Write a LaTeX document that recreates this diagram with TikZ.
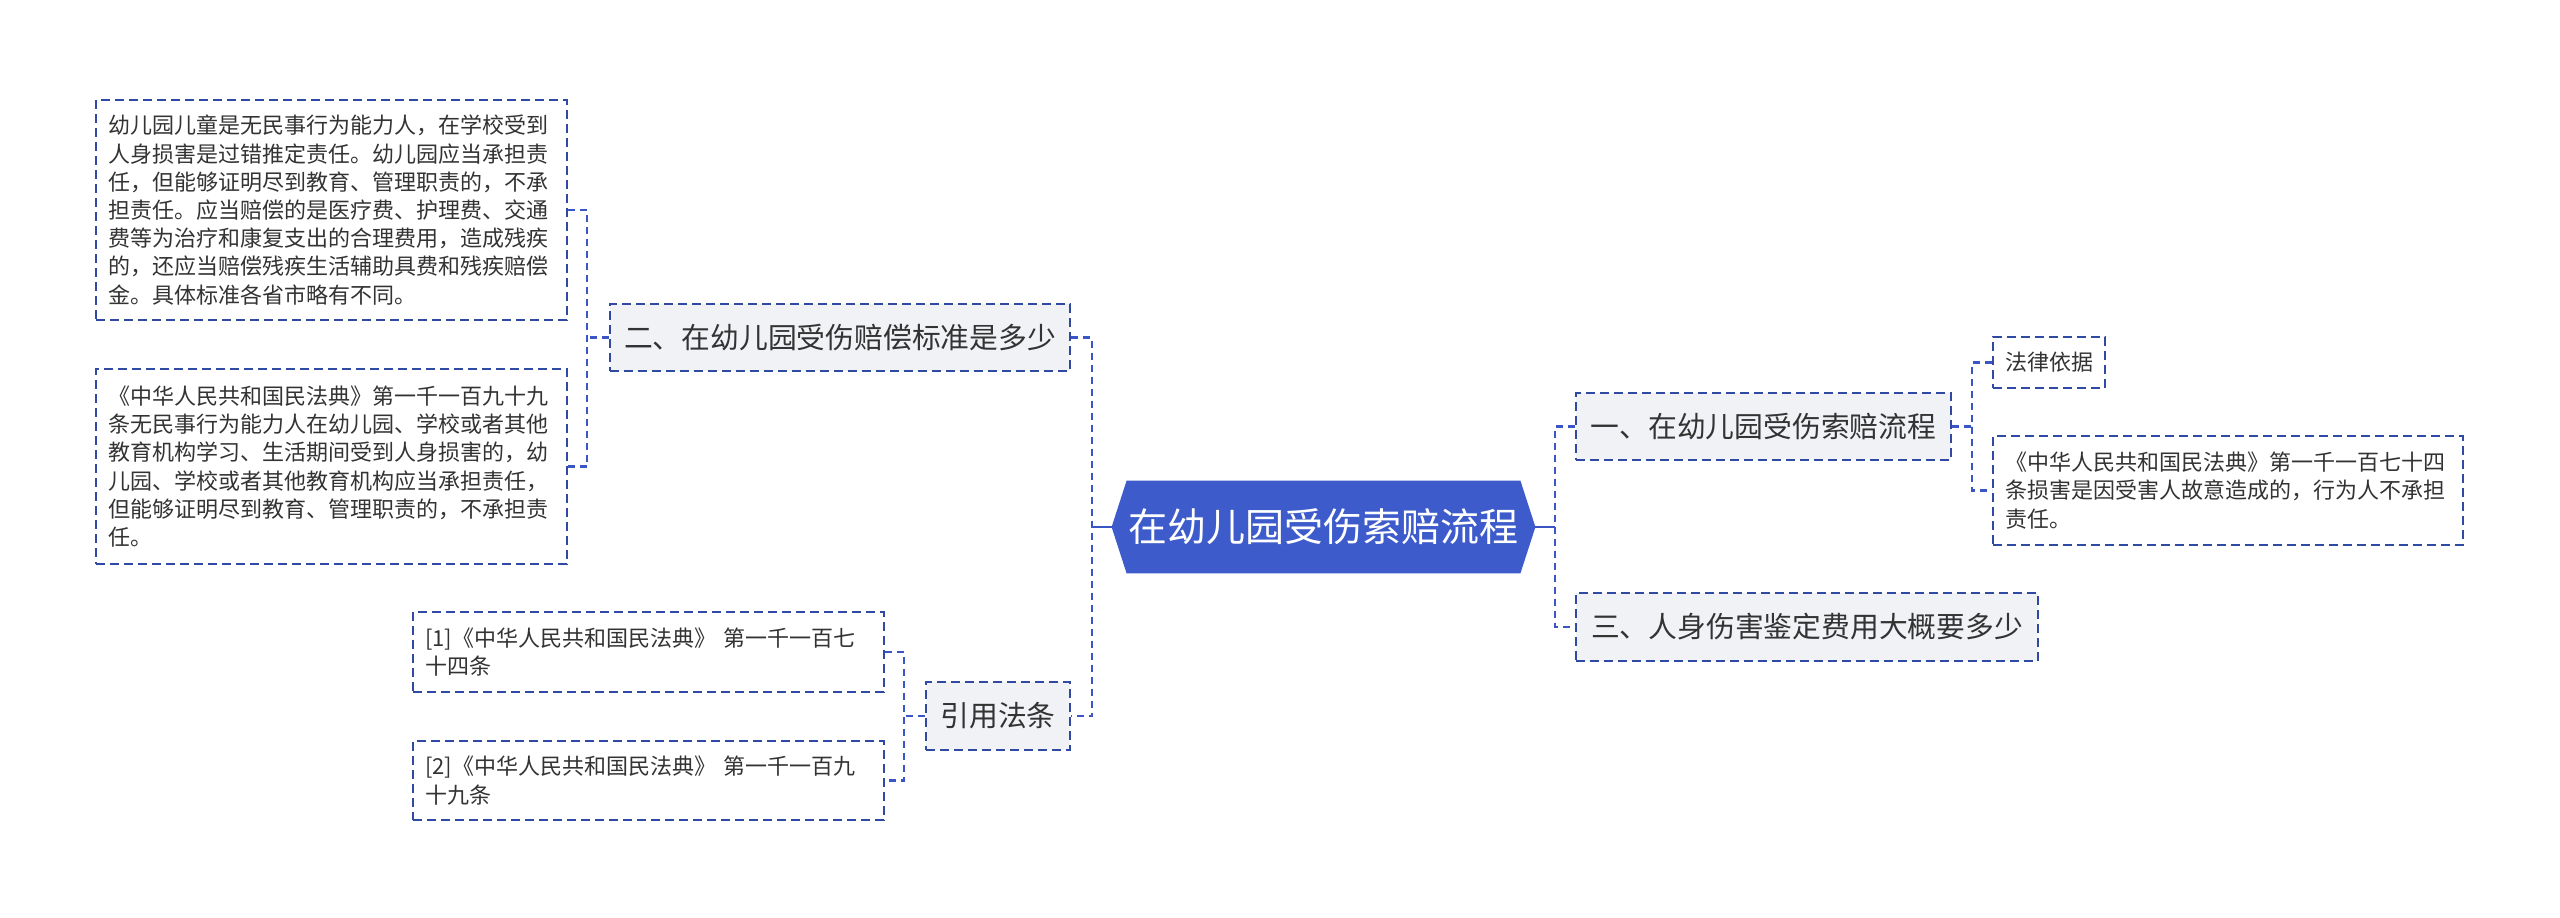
\documentclass[tikz,border=0pt]{standalone}
\usepackage{fontspec}
\setmainfont{Noto Sans CJK SC}
\usetikzlibrary{backgrounds}
\definecolor{hexblue}{HTML}{3D5BCB}
\definecolor{linkblue}{HTML}{3A56C6}
\definecolor{boxline}{HTML}{3049A3}
\definecolor{boxfill}{HTML}{F0F2F6}
\definecolor{txt}{HTML}{333333}
\begin{document}
\begin{tikzpicture}[x=0.5pt,y=-0.5pt,
  hexnode/.style={minimum width=211.5pt,minimum height=46pt,inner sep=0pt,text=white,font=\fontsize{19.5}{24}\selectfont},
  boxdash/.style={draw=boxline,line width=1pt,dash pattern=on 4.5pt off 2.5pt},
  mainbox/.style={boxdash,fill=boxfill,inner sep=0pt,text=txt,font=\fontsize{14.4}{18}\selectfont},
  leafbox/.style={boxdash,fill=white,align=left,inner xsep=6pt,inner ysep=0pt,text=txt,font=\fontsize{11}{14.1}\selectfont},
  conn/.style={draw=linkblue,line width=1.2pt,dash pattern=on 3.5pt off 2.5pt},
  stub/.style={draw=linkblue,line width=1.2pt}
]
\useasboundingbox (0,0) rectangle (2560,917);

% central node
\node[hexnode] (c) at (1323.5,527) {在幼儿园受伤索赔流程};
\begin{scope}[on background layer]
  \fill[white] (0,0) rectangle (2560,917);
  \fill[hexblue] (c.west) -- ([xshift=7.5pt]c.north west) -- ([xshift=-7.5pt]c.north east)
    -- (c.east) -- ([xshift=-7.5pt]c.south east) -- ([xshift=7.5pt]c.south west) -- cycle;
\end{scope}

% first-level nodes
\node[mainbox,minimum width=187.5pt,minimum height=33.5pt] (n1) at (1763.5,426.5) {一、在幼儿园受伤索赔流程};
\node[mainbox,minimum width=231pt,minimum height=34pt] (n3) at (1807,627) {三、人身伤害鉴定费用大概要多少};
\node[mainbox,minimum width=230pt,minimum height=33.5pt] (n2) at (840,337.5) {二、在幼儿园受伤赔偿标准是多少};
\node[mainbox,minimum width=72pt,minimum height=34pt] (n4) at (998,716) {引用法条};

% leaves
\node[leafbox,text width=44pt,minimum height=25.5pt] (l1) at (2049,362.5) {法律依据};
\node[leafbox,text width=223pt,minimum height=54.5pt] (l2) at (2228,490.5)
  {《中华人民共和国民法典》第一千一百七十四\\条损害是因受害人故意造成的，行为人不承担\\责任。};
\node[leafbox,text width=223.5pt,minimum height=110pt] (l3) at (331.5,210)
  {幼儿园儿童是无民事行为能力人，在学校受到\\人身损害是过错推定责任。幼儿园应当承担责\\任，但能够证明尽到教育、管理职责的，不承\\担责任。应当赔偿的是医疗费、护理费、交通\\费等为治疗和康复支出的合理费用，造成残疾\\的，还应当赔偿残疾生活辅助具费和残疾赔偿\\金。具体标准各省市略有不同。};
\node[leafbox,text width=223.5pt,minimum height=97.5pt] (l4) at (331.5,466.5)
  {《中华人民共和国民法典》第一千一百九十九\\条无民事行为能力人在幼儿园、学校或者其他\\教育机构学习、生活期间受到人身损害的，幼\\儿园、学校或者其他教育机构应当承担责任，\\但能够证明尽到教育、管理职责的，不承担责\\任。};
\node[leafbox,text width=223.5pt,minimum height=40pt] (l5) at (648.5,652)
  {[1]《中华人民共和国民法典》 第一千一百七\\十四条};
\node[leafbox,text width=223.5pt,minimum height=39.5pt] (l6) at (648.5,780.5)
  {[2]《中华人民共和国民法典》 第一千一百九\\十九条};

% connectors
\coordinate (rb) at (1555,527);
\coordinate (lb) at (1092,527);
\coordinate (b1) at (1972,426.5);
\coordinate (b2) at (587,337.5);
\coordinate (b4) at (904,716);

\draw[stub] (c.east) -- (rb);
\draw[conn] (n1.west) -| (rb) |- (n3.west);
\draw[stub] (c.west) -- (lb);
\draw[conn] (n2.east) -| (lb) |- (n4.east);

\draw[conn] (n1.east) -- (b1);
\draw[conn] (l1.west) -| (b1) |- (l2.west);
\draw[conn] (n2.west) -- (b2);
\draw[conn] (l3.east) -| (b2) |- (l4.east);
\draw[conn] (n4.west) -- (b4);
\draw[conn] (l5.east) -| (b4) |- (l6.east);
\end{tikzpicture}
\end{document}
